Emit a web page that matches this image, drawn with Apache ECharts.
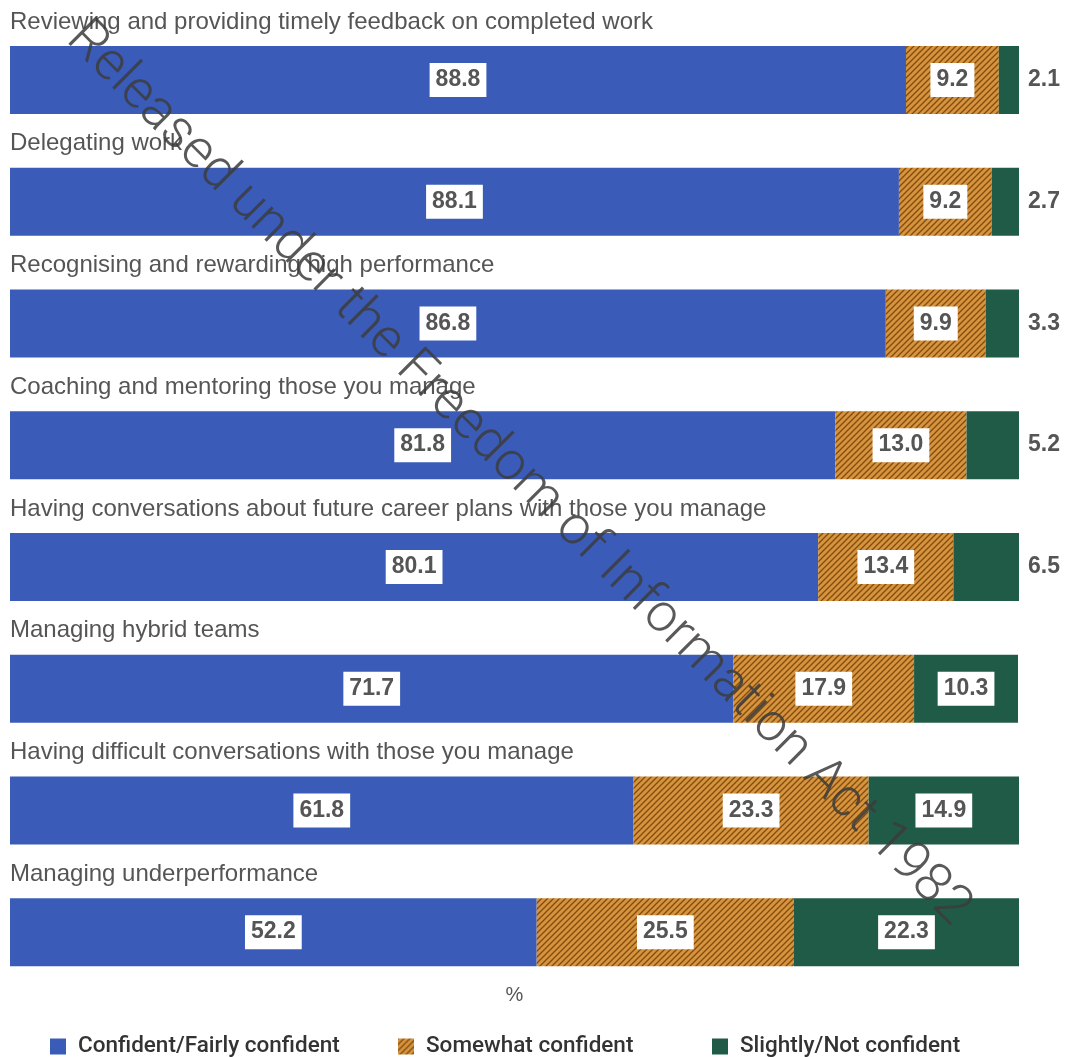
<!DOCTYPE html>
<html>
<head>
<meta charset="utf-8">
<script src="https://cdn.jsdelivr.net/npm/echarts@6/dist/echarts.min.js"></script>
<style>
  html, body { margin: 0; padding: 0; background: #fff; }
  #chart { width: 1065px; height: 1057px; }
</style>
</head>
<body>
<div id="chart"></div>
<script>
const categories = [
  'Reviewing and providing timely feedback on completed work',
  'Delegating work',
  'Recognising and rewarding high performance',
  'Coaching and mentoring those you manage',
  'Having conversations about future career plans with those you manage',
  'Managing hybrid teams',
  'Having difficult conversations with those you manage',
  'Managing underperformance'
]
const confident = [88.8, 88.1, 86.8, 81.8, 80.1, 71.7, 61.8, 52.2]
const somewhat = [9.2, 9.2, 9.9, 13.0, 13.4, 17.9, 23.3, 25.5]
const notConfident = [2.1, 2.7, 3.3, 5.2, 6.5, 10.3, 14.9, 22.3]
const legendNames = ['Confident/Fairly confident', 'Somewhat confident', 'Slightly/Not confident']

const BLUE = '#3a5cb8'
const GREEN = '#1f5b46'
const FONT = '"Liberation Sans", Arial, sans-serif'

// hatched fill for "Somewhat confident"
function hatch() {
  const c = document.createElement('canvas')
  c.width = 6
  c.height = 6
  const ctx = c.getContext('2d')
  ctx.fillStyle = '#d8943a'
  ctx.fillRect(0, 0, 6, 6)
  ctx.strokeStyle = '#7d4b19'
  ctx.lineWidth = 1.3
  ctx.beginPath()
  ctx.moveTo(-1, 7); ctx.lineTo(7, -1)
  ctx.moveTo(-4, 4); ctx.lineTo(4, -4)
  ctx.moveTo(2, 10); ctx.lineTo(10, 2)
  ctx.stroke()
  return { image: c, repeat: 'repeat' }
}

const boxLabel = {
  show: true,
  position: 'inside',
  formatter: p => p.value.toFixed(1),
  backgroundColor: '#fff',
  padding: [6, 6, 5, 6],
  fontSize: 23,
  fontWeight: 'bold',
  fontFamily: FONT,
  color: '#555'
}

const chart = echarts.init(document.getElementById('chart'))

chart.setOption({
  backgroundColor: '#fff',
  animation: false,
  grid: { left: 10, right: 46, top: 19, bottom: 64 },
  xAxis: {
    type: 'value',
    min: 0,
    max: 100,
    name: '%',
    nameLocation: 'middle',
    nameGap: 2,
    nameTextStyle: { fontSize: 20, color: '#555', fontFamily: FONT, verticalAlign: 'middle' },
    axisLabel: { show: false },
    axisLine: { show: false },
    axisTick: { show: false },
    splitLine: { show: false }
  },
  yAxis: {
    type: 'category',
    data: categories,
    inverse: true,
    axisLine: { show: false },
    axisTick: { show: false },
    axisLabel: { show: false }
  },
  legend: legendNames.map((name, i) => ({
    data: [name],
    left: [50, 398, 712][i],
    top: 1035,
    padding: 0,
    itemWidth: 16,
    itemHeight: 16,
    icon: 'rect',
    textStyle: { fontSize: 22.5, fontWeight: 500, color: '#333', fontFamily: 'Roboto, sans-serif', padding: [0, 0, 0, 7] }
  })),
  series: [
    {
      // carries the category text above each bar
      name: 'labels',
      type: 'bar',
      barWidth: 68,
      barGap: '-100%',
      silent: true,
      data: categories.map(() => 100),
      itemStyle: { color: 'transparent' },
      label: {
        show: true,
        position: [0, -24],
        align: 'left',
        verticalAlign: 'middle',
        formatter: p => p.name,
        fontSize: 24,
        color: '#555',
        fontFamily: FONT
      }
    },
    {
      name: legendNames[0],
      type: 'bar',
      stack: 'all',
      barWidth: 68,
      data: confident,
      itemStyle: { color: BLUE },
      label: boxLabel
    },
    {
      name: legendNames[1],
      type: 'bar',
      stack: 'all',
      data: somewhat,
      itemStyle: { color: hatch() },
      label: boxLabel
    },
    {
      name: legendNames[2],
      type: 'bar',
      stack: 'all',
      data: notConfident.map(v => v < 10 ? {
        value: v,
        label: {
          position: 'right',
          distance: 9,
          backgroundColor: 'transparent',
          padding: 0
        }
      } : v),
      itemStyle: { color: GREEN },
      label: boxLabel
    }
  ],
  graphic: [{
    type: 'text',
    x: 518,
    y: 474,
    rotation: -Math.PI / 4,
    z: 100,
    silent: true,
    style: {
      text: 'Released under the Freedom of Information Act 1982',
      fontSize: 54,
      fontWeight: 300,
      fontFamily: 'Roboto, sans-serif',
      fill: 'rgba(60,60,60,0.85)',
      textAlign: 'center',
      textVerticalAlign: 'middle'
    }
  }]
})
</script>
</body>
</html>
